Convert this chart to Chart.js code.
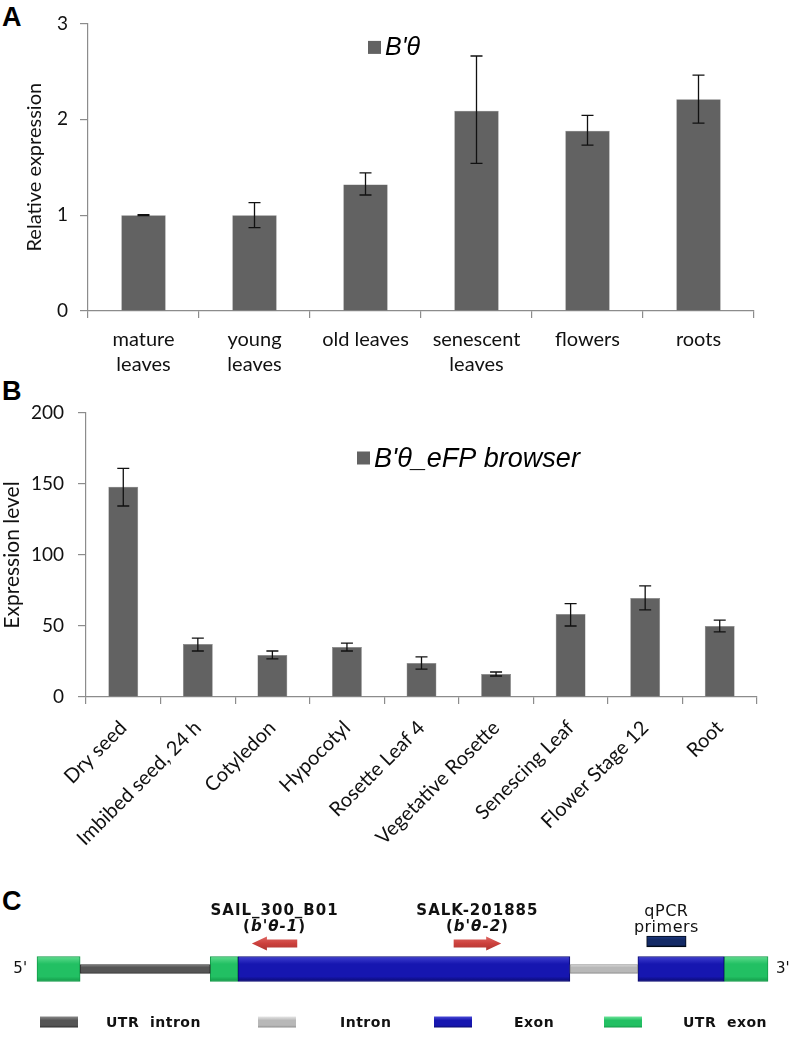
<!DOCTYPE html>
<html>
<head>
<meta charset="utf-8">
<script src="https://cdn.jsdelivr.net/npm/chart.js@4.4.0/dist/chart.umd.min.js"></script>
<style>
  body { margin: 0; background: #fff; }
  #page { position: relative; width: 793px; height: 1038px; overflow: hidden; }
  canvas { position: absolute; left: 0; }
  .panel { position: absolute; font: bold 27px "Liberation Sans", Arial, sans-serif; color: #000; }
</style>
</head>
<body>
<div id="page">
  <div class="panel" style="left:2px; top:2px;">A</div>
  <div class="panel" style="left:2px; top:376px;">B</div>
  <div class="panel" style="left:2px; top:886px;">C</div>
  <div style="position:absolute; left:0; top:0; width:793px; height:380px;"><canvas id="chartA"></canvas></div>
  <div style="position:absolute; left:0; top:380px; width:793px; height:480px;"><canvas id="chartB"></canvas></div>
  <div style="position:absolute; left:0; top:870px; width:793px; height:168px;"><canvas id="chartC"></canvas></div>
</div>
<script>
// Panel A: qRT-PCR relative expression
const tissuesA = [['mature', 'leaves'], ['young', 'leaves'], 'old leaves', ['senescent', 'leaves'], 'flowers', 'roots'];
const relExpr = [1.0, 1.0, 1.32, 2.09, 1.88, 2.21];
const relLow = [0.995, 0.87, 1.21, 1.54, 1.73, 1.96];
const relHigh = [1.005, 1.13, 1.44, 2.66, 2.04, 2.46];
const ticksA = [0, 1, 2, 3];

// Panel B: eFP browser expression level
const tissuesB = ['Dry seed', 'Imbibed seed, 24 h', 'Cotyledon', 'Hypocotyl', 'Rosette Leaf 4',
  'Vegetative Rosette', 'Senescing Leaf', 'Flower Stage 12', 'Root'];
const eFPExpr = [148, 37.3, 29.6, 35.2, 24, 16.2, 58.4, 69.7, 50];
const eFPLow = [134.5, 32.4, 26.8, 32.4, 19.7, 14.8, 50, 61.3, 45.8];
const eFPHigh = [161, 41.5, 32.4, 38, 28.2, 17.6, 65.7, 78.2, 54.2];
const ticksB = [0, 50, 100, 150, 200];

// Panel C: gene model, positions as % of gene length
const utrExons = [[0, 5.9], [23.7, 27.5], [94.0, 100]];
const exons = [[27.5, 72.9], [82.2, 94.0]];
const utrIntrons = [[5.9, 23.7]];
const introns = [[72.9, 82.2]];
const primers = [[83.4, 88.8]];
const insertNames = ['SAIL_300_B01', 'SALK-201885'];
const insertAlleles = ["b'θ-1", "b'θ-2"];
const insertTail = [35.6, 57.0];
const insertHead = [29.4, 63.5];

const calibri = 'Lato, "Open Sans", sans-serif';
const arial = '"Liberation Sans", Arial, sans-serif';
const wide = '"DejaVu Sans", Verdana, sans-serif';
const barGrey = '#626262';
const axisGrey = '#8c8c8c';

const errorBars = {
  id: 'errorBars',
  afterDatasetsDraw(chart, args, opts) {
    const { ctx, scales: { y } } = chart;
    const meta = chart.getDatasetMeta(0);
    ctx.save();
    ctx.strokeStyle = '#111';
    ctx.lineWidth = 1.3;
    opts.low.forEach((lo, i) => {
      const px = meta.data[i].x;
      const y1 = y.getPixelForValue(lo);
      const y2 = y.getPixelForValue(opts.high[i]);
      ctx.beginPath();
      ctx.moveTo(px, y1); ctx.lineTo(px, y2);
      ctx.moveTo(px - 6, y1); ctx.lineTo(px + 6, y1);
      ctx.moveTo(px - 6, y2); ctx.lineTo(px + 6, y2);
      ctx.stroke();
    });
    ctx.restore();
  }
};

// legend square + italic label, placed inside the plot area
const innerLegend = {
  id: 'innerLegend',
  afterDraw(chart, args, opts) {
    const { ctx, chartArea } = chart;
    const x = chartArea.left + opts.dx;
    const y = chartArea.top + opts.dy;
    ctx.save();
    ctx.fillStyle = barGrey;
    ctx.fillRect(x, y - 6.5, 13, 13);
    ctx.fillStyle = '#000';
    ctx.font = 'italic ' + opts.size + 'px ' + arial;
    ctx.textBaseline = 'middle';
    ctx.fillText(opts.text, x + 17, y + 1);
    ctx.restore();
  }
};

function barChart(id, labels, values, low, high, tickVals, opt) {
  return new Chart(document.getElementById(id), {
    type: 'bar',
    data: {
      labels: labels,
      datasets: [{
        data: values,
        backgroundColor: barGrey,
        borderColor: '#7a7a7a',
        borderWidth: 0.5,
        categoryPercentage: 1,
        barPercentage: 0.4
      }]
    },
    options: {
      responsive: true,
      maintainAspectRatio: false,
      animation: false,
      layout: { padding: opt.padding },
      scales: {
        x: {
          grid: { display: true, drawOnChartArea: false, tickLength: 7, color: axisGrey, lineWidth: 1.2 },
          border: { color: axisGrey, width: 1.2 },
          ticks: {
            color: '#111', font: opt.xFont, padding: opt.xPad,
            minRotation: opt.rot, maxRotation: opt.rot, autoSkip: false
          },
          afterFit: s => { s.height = opt.xHeight; }
        },
        y: {
          min: tickVals[0], max: tickVals[tickVals.length - 1],
          afterBuildTicks: s => { s.ticks = tickVals.map(v => ({ value: v })); },
          grid: { display: true, drawOnChartArea: false, tickLength: 8, color: axisGrey, lineWidth: 1.2 },
          border: { color: axisGrey, width: 1.2 },
          ticks: { color: '#111', font: { family: calibri, size: 19 }, padding: opt.yPad },
          title: { display: true, text: opt.yTitle, color: '#111', font: { family: calibri, size: opt.titleSize }, padding: opt.titlePad },
          afterFit: s => { s.width = opt.yWidth; }
        }
      },
      plugins: {
        legend: { display: false },
        tooltip: { enabled: false },
        errorBars: { low: low, high: high },
        innerLegend: opt.legend
      }
    },
    plugins: [errorBars, innerLegend]
  });
}

barChart('chartA', tissuesA, relExpr, relLow, relHigh, ticksA, {
  padding: { left: 19, right: 39, top: 13, bottom: 0 },
  yWidth: 69, xHeight: 69, xPad: 9, yPad: 12, rot: 0,
  xFont: { family: calibri, size: 20, lineHeight: 1.25 },
  yTitle: 'Relative expression', titleSize: 20, titlePad: { top: 4, bottom: 4 },
  legend: { text: "B'θ", dx: 280, dy: 24, size: 25 }
});

barChart('chartB', tissuesB, eFPExpr, eFPLow, eFPHigh, ticksB, {
  padding: { left: 0, right: 36, top: 33, bottom: 0 },
  yWidth: 86, xHeight: 163, xPad: 12, yPad: 14, rot: 45,
  xFont: { family: calibri, size: 20 },
  yTitle: 'Expression level', titleSize: 21, titlePad: { top: 0, bottom: 4 },
  legend: { text: "B'θ_eFP browser", dx: 271, dy: 45, size: 27 }
});

// ---- Panel C: gene structure drawn as floating horizontal bars ----
function bevel(base, light, dark, thick) {
  return c => {
    const chart = c.chart;
    if (!chart.chartArea) return base;
    const yc = chart.scales.y.getPixelForValue(chart.scales.y.getLabels().indexOf(c.raw.y));
    const g = chart.ctx.createLinearGradient(0, yc - thick / 2, 0, yc + thick / 2);
    g.addColorStop(0, light);
    g.addColorStop(0.3, base);
    g.addColorStop(0.8, base);
    g.addColorStop(1, dark);
    return g;
  };
}

function segSet(label, segs, row, thick, base, light, dark) {
  return {
    label: label,
    data: segs.map(s => ({ x: s, y: row })),
    barThickness: thick,
    grouped: false,
    clip: false,
    backgroundColor: bevel(base, light, dark, thick),
    borderColor: dark,
    borderWidth: 1,
    borderSkipped: false
  };
}

const geneLabels = {
  id: 'geneLabels',
  afterDraw(chart) {
    const { ctx, scales: { x, y } } = chart;
    const geneY = y.getPixelForValue(1);
    const primerY = y.getPixelForValue(0);
    ctx.save();
    ctx.fillStyle = '#111';
    ctx.textBaseline = 'middle';
    ctx.font = '15px ' + wide;
    ctx.textAlign = 'right';
    ctx.fillText("5'", x.getPixelForValue(0) - 10, geneY);
    ctx.textAlign = 'left';
    ctx.fillText("3'", x.getPixelForValue(100) + 8, geneY);

    // insertion arrows
    insertTail.forEach((t, i) => {
      const xt = x.getPixelForValue(t), xh = x.getPixelForValue(insertHead[i]);
      const dir = Math.sign(xh - xt);
      const ay = primerY + 2;
      const g = ctx.createLinearGradient(0, ay - 8, 0, ay + 8);
      g.addColorStop(0, '#e06a66');
      g.addColorStop(0.5, '#cc403c');
      g.addColorStop(1, '#a83330');
      ctx.fillStyle = g;
      ctx.beginPath();
      ctx.moveTo(xt, ay - 4);
      ctx.lineTo(xh - dir * 15, ay - 4);
      ctx.lineTo(xh - dir * 15, ay - 7);
      ctx.lineTo(xh, ay);
      ctx.lineTo(xh - dir * 15, ay + 7);
      ctx.lineTo(xh - dir * 15, ay + 4);
      ctx.lineTo(xt, ay + 4);
      ctx.closePath();
      ctx.fill();

      const cx = (xt + xh) / 2;
      ctx.fillStyle = '#111';
      ctx.letterSpacing = '1px';
      ctx.textAlign = 'center';
      ctx.font = 'bold 15px ' + wide;
      ctx.fillText(insertNames[i], cx, primerY - 30);
      const a = insertAlleles[i];
      const wOpen = ctx.measureText('(').width;
      ctx.font = 'italic bold 15px ' + wide;
      const wA = ctx.measureText(a).width;
      const total = wOpen * 2 + wA;
      ctx.textAlign = 'left';
      const px = cx - total / 2;
      ctx.font = 'bold 15px ' + wide;
      ctx.fillText('(', px, primerY - 14);
      ctx.font = 'italic bold 15px ' + wide;
      ctx.fillText(a, px + wOpen, primerY - 14);
      ctx.font = 'bold 15px ' + wide;
      ctx.fillText(')', px + wOpen + wA, primerY - 14);
    });

    // primer label
    const pc = x.getPixelForValue((primers[0][0] + primers[0][1]) / 2);
    ctx.textAlign = 'center';
    ctx.letterSpacing = '0.5px';
    ctx.font = '16px ' + wide;
    ctx.fillText('qPCR', pc, primerY - 30);
    ctx.fillText('primers', pc, primerY - 14);

    // key
    const keyY = chart.height - 16;
    const key = [
      { text: 'UTR  intron', base: '#555', light: '#8a8a8a', dark: '#2e2e2e', sx: 40, tx: 106 },
      { text: 'Intron', base: '#b8b8b8', light: '#e6e6e6', dark: '#8e8e8e', sx: 258, tx: 340 },
      { text: 'Exon', base: '#1616b0', light: '#4a4ad6', dark: '#0a0a70', sx: 434, tx: 514 },
      { text: 'UTR  exon', base: '#22c063', light: '#6ee39a', dark: '#139a48', sx: 604, tx: 683 }
    ];
    ctx.textAlign = 'left';
    ctx.letterSpacing = '0.5px';
    ctx.font = 'bold 14px ' + wide;
    key.forEach(k => {
      const g = ctx.createLinearGradient(0, keyY - 5.5, 0, keyY + 5.5);
      g.addColorStop(0, k.light);
      g.addColorStop(0.35, k.base);
      g.addColorStop(0.8, k.base);
      g.addColorStop(1, k.dark);
      ctx.fillStyle = g;
      ctx.fillRect(k.sx, keyY - 5.5, 38, 11);
      ctx.fillStyle = '#111';
      ctx.fillText(k.text, k.tx, keyY + 1);
    });
    ctx.restore();
  }
};

new Chart(document.getElementById('chartC'), {
  type: 'bar',
  data: {
    labels: ['primer', 'gene'],
    datasets: [
      segSet('UTR intron', utrIntrons, 'gene', 9, '#555555', '#8a8a8a', '#2e2e2e'),
      segSet('Intron', introns, 'gene', 9, '#b8b8b8', '#e6e6e6', '#8e8e8e'),
      segSet('Exon', exons, 'gene', 25, '#1616b0', '#4040d0', '#0a0a70'),
      segSet('UTR exon', utrExons, 'gene', 25, '#22c063', '#5fdc8e', '#139a48'),
      segSet('qPCR primers', primers, 'primer', 11, '#132a66', '#1f3c85', '#000814')
    ]
  },
  options: {
    indexAxis: 'y',
    responsive: true,
    maintainAspectRatio: false,
    animation: false,
    layout: { padding: { left: 37, right: 25, top: 71.5, bottom: 69 } },
    scales: {
      x: { type: 'linear', min: 0, max: 100, display: false },
      y: { type: 'category', offset: false, display: false }
    },
    plugins: { legend: { display: false }, tooltip: { enabled: false } }
  },
  plugins: [geneLabels]
});
</script>
</body>
</html>
